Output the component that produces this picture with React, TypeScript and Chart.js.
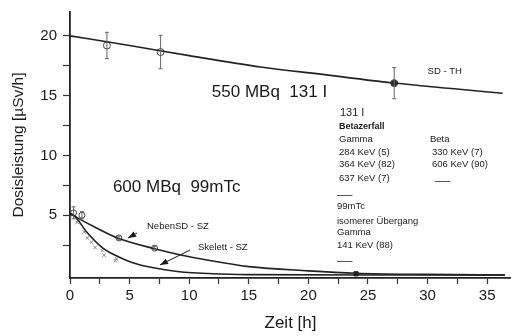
import { useEffect, useRef } from "react";
import { Chart, registerables } from "chart.js";
Chart.register(...registerables);

// 131 I fitted curve
const i131CurveX = [0, 5, 10, 16, 21, 27, 32, 36.3];
const i131CurveY = [20.0, 19.2, 18.35, 17.4, 16.8, 16.08, 15.6, 15.2];
// 131 I measured points
const i131PointX = [3.1, 7.6, 27.2];
const i131PointY = [19.2, 18.65, 16.05];
const i131PointErr = [1.1, 1.4, 1.3];

// 99mTc NebenSD - SZ curve
const nebenCurveX = [0, 0.6, 2.1, 4.1, 7.1, 9.2, 11.5, 15, 20, 24, 30, 36.5];
const nebenCurveY = [5.2, 4.8, 4.0, 3.05, 2.2, 1.7, 1.25, 0.7, 0.35, 0.15, 0.05, 0.0];
const nebenPointX = [0.3, 1.0, 4.1, 7.1];
const nebenPointY = [5.2, 5.0, 3.1, 2.25];
const nebenPointErr = [0.5, 0.3, 0.15, 0.15];

// 99mTc Skelett - SZ curve
const skelettCurveX = [0, 0.4, 1.4, 2.7, 3.8, 5.2, 7.0, 9.0, 12, 15, 25, 36.5];
const skelettCurveY = [5.1, 4.9, 3.6, 2.3, 1.65, 1.05, 0.6, 0.3, 0.1, 0.03, 0, 0];
const skelettPointX = [0.2, 0.6, 1.2, 1.45, 1.8, 2.1, 2.7, 2.85, 3.8, 3.9];
const skelettPointY = [5.0, 4.4, 3.6, 3.1, 2.75, 2.3, 2.05, 1.65, 1.2, 1.35];

// late measurement
const latePointX = [24];
const latePointY = [0.1];

// axis ticks
const xTickLabels = [0, 5, 10, 15, 20, 25, 30, 35];
const yTickLabels = [5, 10, 15, 20];

const FONT = "'Liberation Sans', Arial, sans-serif";
const INK = "#1a1a1a";
const CANVAS_W = 511;

type Txt = { t: string; x: number; y: number; size: number; bold?: boolean };
const texts: Txt[] = [
  { t: "550 MBq  131 I", x: 11.9, y: 15.3, size: 17 },
  { t: "600 MBq  99mTc", x: 3.6, y: 7.36, size: 17 },
  { t: "SD - TH", x: 30.0, y: 17.0, size: 9.5 },
  { t: "131 I", x: 22.65, y: 13.55, size: 11 },
  { t: "Betazerfall", x: 22.57, y: 12.46, size: 9, bold: true },
  { t: "Gamma", x: 22.57, y: 11.38, size: 9.5 },
  { t: "Beta", x: 30.2, y: 11.38, size: 9.5 },
  { t: "284 KeV (5)", x: 22.57, y: 10.29, size: 9.5 },
  { t: "330 KeV (7)", x: 30.37, y: 10.29, size: 9.5 },
  { t: "364 KeV (82)", x: 22.57, y: 9.28, size: 9.5 },
  { t: "606 KeV (90)", x: 30.37, y: 9.28, size: 9.5 },
  { t: "637 KeV (7)", x: 22.57, y: 8.11, size: 9.5 },
  { t: "99mTc", x: 22.4, y: 5.77, size: 9.5 },
  { t: "isomerer Übergang", x: 22.4, y: 4.52, size: 9.5 },
  { t: "Gamma", x: 22.4, y: 3.6, size: 9.5 },
  { t: "141 KeV (88)", x: 22.4, y: 2.51, size: 9.5 },
  { t: "NebenSD - SZ", x: 6.46, y: 4.1, size: 9.5 },
  { t: "Skelett - SZ", x: 10.74, y: 2.34, size: 9.5 },
];
const dashes = [
  { x1: 30.6, x2: 31.9, y: 7.86 },
  { x1: 22.4, x2: 23.7, y: 6.69 },
  { x1: 22.4, x2: 23.7, y: 1.17 },
];
const arrows = [
  { x1: 5.62, y1: 3.51, x2: 4.87, y2: 3.09 },
  { x1: 10.07, y1: 2.09, x2: 7.55, y2: 0.84 },
];

const zip = (xs: number[], ys: number[]) => xs.map((x, i) => ({ x, y: ys[i] }));

const overlay = {
  id: "overlay",
  afterLayout(chart: any) {
    const s = chart.scales.x;
    const d = CANVAS_W - chart.chartArea.right;
    if (d > 0) {
      chart.chartArea.right += d;
      chart.chartArea.width += d;
      s.right += d;
      s.width += d;
      s.configure();
    }
  },
  afterDatasetsDraw(chart: any) {
    const ctx = chart.ctx;
    const xs = chart.scales.x;
    const ys = chart.scales.y;
    ctx.save();
    // error bars
    chart.data.datasets.forEach((ds: any) => {
      if (!ds.errors) return;
      ds.data.forEach((p: any, i: number) => {
        const e = ds.errors[i];
        const px = xs.getPixelForValue(p.x);
        const top = ys.getPixelForValue(p.y + e);
        const bot = ys.getPixelForValue(p.y - e);
        ctx.strokeStyle = "#666";
        ctx.lineWidth = 1;
        ctx.beginPath();
        ctx.moveTo(px, top);
        ctx.lineTo(px, bot);
        ctx.moveTo(px - 2, top);
        ctx.lineTo(px + 2, top);
        ctx.moveTo(px - 2, bot);
        ctx.lineTo(px + 2, bot);
        ctx.stroke();
      });
    });
    // texts
    ctx.fillStyle = INK;
    ctx.textBaseline = "middle";
    ctx.textAlign = "left";
    texts.forEach((t) => {
      ctx.font = `${t.bold ? "bold " : ""}${t.size}px ${FONT}`;
      ctx.fillText(t.t, xs.getPixelForValue(t.x), ys.getPixelForValue(t.y));
    });
    // dashes
    ctx.strokeStyle = "#555";
    ctx.lineWidth = 1;
    dashes.forEach((d) => {
      const y = Math.round(ys.getPixelForValue(d.y)) + 0.5;
      ctx.beginPath();
      ctx.moveTo(xs.getPixelForValue(d.x1), y);
      ctx.lineTo(xs.getPixelForValue(d.x2), y);
      ctx.stroke();
    });
    // arrows
    arrows.forEach((a) => {
      const x1 = xs.getPixelForValue(a.x1), y1 = ys.getPixelForValue(a.y1);
      const x2 = xs.getPixelForValue(a.x2), y2 = ys.getPixelForValue(a.y2);
      const ang = Math.atan2(y2 - y1, x2 - x1);
      ctx.strokeStyle = INK;
      ctx.fillStyle = INK;
      ctx.lineWidth = 1;
      ctx.beginPath();
      ctx.moveTo(x1, y1);
      ctx.lineTo(x2, y2);
      ctx.stroke();
      const L = 8, W = 3;
      ctx.beginPath();
      ctx.moveTo(x2, y2);
      ctx.lineTo(x2 - L * Math.cos(ang) + W * Math.sin(ang), y2 - L * Math.sin(ang) - W * Math.cos(ang));
      ctx.lineTo(x2 - L * Math.cos(ang) - W * Math.sin(ang), y2 - L * Math.sin(ang) + W * Math.cos(ang));
      ctx.closePath();
      ctx.fill();
    });
    ctx.restore();
  },
};

export default function App() {
  const ref = useRef<HTMLCanvasElement | null>(null);
  useEffect(() => {
    if (!ref.current) return;
    const curve = (xs: number[], ys: number[], w = 1.6) => ({
      type: "line" as const,
      data: zip(xs, ys),
      showLine: true,
      borderColor: "#222",
      borderWidth: w,
      pointRadius: 0,
      cubicInterpolationMode: "monotone" as const,
      fill: false,
    });
    const chart = new Chart(ref.current, {
      type: "scatter",
      data: {
        datasets: [
          curve(i131CurveX, i131CurveY),
          curve(nebenCurveX, nebenCurveY),
          curve(skelettCurveX, skelettCurveY),
          {
            type: "scatter",
            data: zip(i131PointX, i131PointY),
            errors: i131PointErr,
            pointStyle: "circle",
            pointRadius: 3.5,
            borderWidth: 1,
            borderColor: "#444",
            backgroundColor: ["#fff", "#fff", "#333"],
          } as any,
          {
            type: "scatter",
            data: zip(nebenPointX, nebenPointY),
            errors: nebenPointErr,
            pointStyle: "circle",
            pointRadius: 3,
            borderWidth: 1,
            borderColor: "#444",
            backgroundColor: "#fff",
          } as any,
          {
            type: "scatter",
            data: zip(skelettPointX, skelettPointY),
            pointStyle: "crossRot",
            pointRadius: 2.5,
            borderWidth: 1,
            borderColor: "#888",
          },
          {
            type: "scatter",
            data: zip(latePointX, latePointY),
            pointStyle: "rect",
            pointRadius: 3,
            borderWidth: 1,
            borderColor: "#222",
            backgroundColor: "#222",
          },
        ],
      },
      options: {
        responsive: false,
        animation: false,
        events: [],
        layout: { padding: { top: 12, right: 0, left: 0, bottom: 0 } },
        plugins: { legend: { display: false }, tooltip: { enabled: false } },
        scales: {
          x: {
            type: "linear",
            min: 0,
            max: 37,
            afterFit: (s: any) => { s.height = 58; s.paddingLeft = 0; s.paddingRight = 0; },
            border: { display: true, color: "#222", width: 1.8 },
            grid: { drawOnChartArea: false, drawTicks: true, tickLength: 6, tickColor: "#333", tickWidth: 1.2 },
            ticks: {
              stepSize: 2.5,
              includeBounds: false,
              autoSkip: false,
              maxRotation: 0,
              padding: 3,
              color: INK,
              font: { family: FONT, size: 15 },
              callback: (v: any) => (xTickLabels.includes(Number(v)) ? String(v) : ""),
            },
            title: { display: true, text: "Zeit [h]", color: INK, font: { family: FONT, size: 17 }, padding: { top: 0, bottom: 2 } },
          },
          y: {
            type: "linear",
            min: -0.25,
            max: 22,
            afterFit: (s: any) => { s.width = 70; s.paddingTop = 0; s.paddingBottom = 0; },
            border: { display: true, color: "#222", width: 1.8 },
            grid: {
              drawOnChartArea: false,
              drawTicks: true,
              tickLength: 7,
              tickWidth: 1.2,
              tickColor: (c: any) => (c.tick && c.tick.value === 0 ? "rgba(0,0,0,0)" : "#333"),
            },
            ticks: {
              stepSize: 2.5,
              includeBounds: false,
              autoSkip: false,
              padding: 6,
              color: INK,
              font: { family: FONT, size: 15 },
              callback: (v: any) => (yTickLabels.includes(Number(v)) ? String(v) : ""),
            },
            title: { display: true, text: "Dosisleistung [µSv/h]", color: INK, font: { family: FONT, size: 15.5 }, padding: { top: 9, bottom: 0 } },
          },
        },
      },
      plugins: [overlay],
    } as any);
    return () => chart.destroy();
  }, []);
  return (
    <div style={{ position: "absolute", left: 0, top: 0, width: 511, height: 336, background: "#fff" }}>
      <canvas ref={ref} width={511} height={336} />
    </div>
  );
}
